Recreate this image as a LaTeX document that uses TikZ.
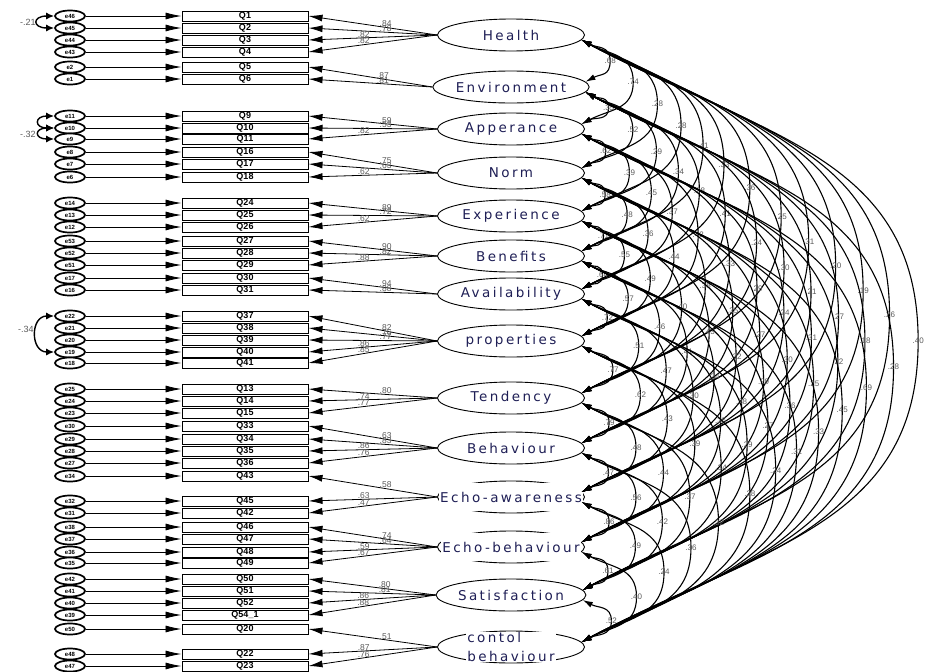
\documentclass[tikz,border=0pt]{standalone}
\usepackage{fontspec}
\setmainfont{Liberation Sans}
\newfontfamily\latfont[LetterSpace=18]{DejaVu Sans}
\usetikzlibrary{shapes.geometric,arrows.meta,calc}
\definecolor{latcol}{RGB}{30,30,85}
\definecolor{labgray}{RGB}{90,90,90}
\tikzset{
  errnode/.style={ellipse, draw, line width=1.7pt, fill=white, minimum width=30pt, minimum height=11pt, inner sep=0pt, font=\fontsize{6}{6}\selectfont\bfseries},
  itembox/.style={rectangle, draw, line width=1pt, minimum width=126pt, minimum height=10pt, inner sep=0pt, font=\fontsize{9}{9}\selectfont\bfseries},
  latent/.style={ellipse, draw, line width=0.9pt, minimum width=147pt, minimum height=32pt, inner sep=0pt, font=\latfont\fontsize{13.5}{14}\selectfont, text=latcol},
  latwide/.style={fill=white, inner xsep=1pt, inner ysep=9pt, font=\latfont\fontsize{13.5}{14}\selectfont, text=latcol},
  errarrow/.style={-{Latex[length=16pt,width=7pt]}, line width=0.8pt},
  load/.style={-{Latex[length=14pt,width=7pt]}, line width=0.8pt},
  lodlab/.style={font=\fontsize{8.5}{8.5}\selectfont, text=labgray, inner sep=0.3pt, above},
  cov/.style={{Latex[length=10pt,width=6pt]}-{Latex[length=10pt,width=6pt]}, line width=1.1pt},
  covlab/.style={font=\fontsize{8}{8}\selectfont, text=labgray, inner sep=0.5pt},
  errcov/.style={{Latex[length=8pt,width=7pt]}-{Latex[length=8pt,width=7pt]}, line width=1.4pt},
}
\begin{document}
\begin{tikzpicture}[x=1pt, y=1pt]
\useasboundingbox (0,0) rectangle (927,-672);
% labels of the error covariances (partly hidden by the arcs)
\node[covlab, font=\fontsize{9}{9}\selectfont] (ec1) at (28,-22) {-.21};
\node[covlab, font=\fontsize{9}{9}\selectfont] (ec2) at (28,-134) {-.32};
\node[covlab, font=\fontsize{9}{9}\selectfont] (ec3) at (26,-329) {-.34};
% indicators with their errors
\foreach \i/\q/\y/\e in {1/Q1/16/e46, 2/Q2/28/e45, 3/Q3/40/e44, 4/Q4/52/e43,
    5/Q5/67/e2, 6/Q6/79/e1, 7/Q9/116/e11, 8/Q10/128/e10, 9/Q11/139/e9,
    10/Q16/152/e8, 11/Q17/164/e7, 12/Q18/177/e6, 13/Q24/203/e14, 14/Q25/215/e13,
    15/Q26/227/e12, 16/Q27/241/e53, 17/Q28/253/e52, 18/Q29/265/e51, 19/Q30/278/e17,
    20/Q31/290/e16, 21/Q37/316/e22, 22/Q38/328/e21, 23/Q39/340/e20, 24/Q40/352/e19,
    25/Q41/363/e18, 26/Q13/389/e25, 27/Q14/401/e24, 28/Q15/413/e23, 29/Q33/426/e30,
    30/Q34/439/e29, 31/Q35/451/e28, 32/Q36/463/e27, 33/Q43/476/e34, 34/Q45/501/e32,
    35/Q42/513/e31, 36/Q46/527/e38, 37/Q47/539/e37, 38/Q48/552/e36, 39/Q49/563/e35,
    40/Q50/579/e42, 41/Q51/591/e41, 42/Q52/603/e40, 43/Q54\_1/615/e39, 44/Q20/629/e50,
    45/Q22/654/e48, 46/Q23/666/e47} {
  \node[itembox] (q\i) at (245,-\y) {\q};
  \node[errnode] (e\i) at (70,-\y) {\e};
  \draw[errarrow] (e\i) -- (q\i);
}
% error covariances
\draw[errcov] (e1.west) .. controls +(-22,0) and +(-22,0) .. (e2.west);
\draw[errcov] (e7.west) .. controls +(-20,0) and +(-20,0) .. (e8.west);
\draw[errcov] (e8.west) .. controls +(-20,0) and +(-20,0) .. (e9.west);
\draw[errcov] (e21.west) .. controls +(-24,0) and +(-24,0) .. (e24.west);
% latent variables
\node[latent] (L1)  at (511,-35)  {Health};
\node[latent] (L2)  at (511,-87)  {Environment};
\node[latent] (L3)  at (511,-129) {Apperance};
\node[latent] (L4)  at (511,-173) {Norm};
\node[latent] (L5)  at (511,-216) {Experience};
\node[latent] (L6)  at (511,-256) {Benefits};
\node[latent] (L7)  at (511,-294) {Availability};
\node[latent] (L8)  at (511,-341) {properties};
\node[latent] (L9)  at (511,-398) {Tendency};
\node[latent] (L10) at (511,-448) {Behaviour};
\node[latent] (L11) at (511,-497) {};
\node[latwide] (t11) at (L11) {Echo-awareness};
\node[latent] (L12) at (511,-547) {};
\node[latwide] (t12) at (L12) {Echo-behaviour};
\node[latent] (L13) at (511,-595) {Satisfaction};
\node[latent] (L14) at (511,-647) {};
\node[latwide, align=left, inner ysep=0pt, font=\latfont\fontsize{13.5}{19}\selectfont] (t14) at (L14) {contol\\behaviour};
% loadings
\foreach \i/\v/\p in {1/.84/.4, 2/.78/.4, 3/.82/.57, 4/.82/.57}
  \draw[load] (L1.west) -- node[lodlab, pos=\p] (l\i) {\v} (q\i.east);
\foreach \i/\v/\p in {5/.87/.4, 6/.81/.4}
  \draw[load] (L2.west) -- node[lodlab, pos=\p] (l\i) {\v} (q\i.east);
\foreach \i/\v/\p in {7/.59/.4, 8/.53/.4, 9/.82/.57}
  \draw[load] (L3.west) -- node[lodlab, pos=\p] (l\i) {\v} (q\i.east);
\foreach \i/\v/\p in {10/.75/.4, 11/.63/.4, 12/.62/.57}
  \draw[load] (L4.west) -- node[lodlab, pos=\p] (l\i) {\v} (q\i.east);
\foreach \i/\v/\p in {13/.89/.4, 14/.72/.4, 15/.62/.57}
  \draw[load] (L5.west) -- node[lodlab, pos=\p] (l\i) {\v} (q\i.east);
\foreach \i/\v/\p in {16/.90/.4, 17/.82/.4, 18/.88/.57}
  \draw[load] (L6.west) -- node[lodlab, pos=\p] (l\i) {\v} (q\i.east);
\foreach \i/\v/\p in {19/.94/.4, 20/.88/.4}
  \draw[load] (L7.west) -- node[lodlab, pos=\p] (l\i) {\v} (q\i.east);
\foreach \i/\v/\p in {21/.82/.4, 22/.76/.4, 23/.77/.4, 24/.86/.57, 25/.85/.57}
  \draw[load] (L8.west) -- node[lodlab, pos=\p] (l\i) {\v} (q\i.east);
\foreach \i/\v/\p in {26/.80/.4, 27/.74/.57, 28/.77/.57}
  \draw[load] (L9.west) -- node[lodlab, pos=\p] (l\i) {\v} (q\i.east);
\foreach \i/\v/\p in {29/.63/.4, 30/.83/.4, 31/.86/.57, 32/.76/.57}
  \draw[load] (L10.west) -- node[lodlab, pos=\p] (l\i) {\v} (q\i.east);
\foreach \i/\v/\p in {33/.58/.4, 34/.63/.57, 35/.47/.57}
  \draw[load] (L11.west) -- node[lodlab, pos=\p] (l\i) {\v} (q\i.east);
\foreach \i/\v/\p in {36/.74/.4, 37/.64/.4, 38/.59/.57, 39/.67/.57}
  \draw[load] (L12.west) -- node[lodlab, pos=\p] (l\i) {\v} (q\i.east);
\foreach \i/\v/\p in {40/.80/.4, 41/.81/.4, 42/.86/.57, 43/.88/.57}
  \draw[load] (L13.west) -- node[lodlab, pos=\p] (l\i) {\v} (q\i.east);
\foreach \i/\v/\p in {44/.51/.4, 45/.87/.57, 46/.76/.57}
  \draw[load] (L14.west) -- node[lodlab, pos=\p] (l\i) {\v} (q\i.east);
% covariances between the latent variables
\foreach \a/\row in {
    1/{2/.68,3/.74,4/.28,5/.28,6/.41,7/.33,8/.36,9/.25,10/.31,11/.20,12/.19,13/.26,14/.40},
    2/{3/.35,4/.52,5/.29,6/.34,7/.28,8/.41,9/.24,10/.30,11/.21,12/.27,13/.18,14/.28},
    3/{4/.62,5/.39,6/.45,7/.37,8/.42,9/.33,10/.29,11/.24,12/.31,13/.22,14/.69},
    4/{5/.58,6/.48,7/.36,8/.44,9/.38,10/.35,11/.27,12/.30,13/.25,14/.45},
    5/{6/.71,7/.55,8/.49,9/.40,10/.43,11/.32,12/.29,13/.36,14/.33},
    6/{7/.64,8/.57,9/.46,10/.41,11/.34,12/.38,13/.27,14/.31},
    7/{8/.72,9/.51,10/.47,11/.30,12/.35,13/.29,14/.24},
    8/{9/.77,10/.62,11/.43,12/.39,13/.34,14/.28},
    9/{10/.79,11/.48,12/.44,13/.37,14/.32},
    10/{11/.47,12/.56,13/.42,14/.36},
    11/{12/.86,13/.49,14/.24},
    12/{13/.61,14/.40},
    13/{14/.52}} {
  \foreach \b/\v in \row {
    \draw[cov] let \p1=(L\a), \p2=(L\b), \n1={\y1-\y2},
        \p3=(L\a.-4), \p4=(L\b.4) in
      (\p3) .. controls +(-28:{0.34*\n1}) and +(0,{0.3*\n1})
      .. ({\x3+0.55*\n1},{0.5*(\y3+\y4)}) coordinate (m\a-\b)
      .. controls +(0,{-0.3*\n1}) and +(28:{0.34*\n1}) .. (\p4);
    \node[covlab] (c\a-\b) at (m\a-\b) {\v};
  }
}
\end{tikzpicture}
\end{document}
